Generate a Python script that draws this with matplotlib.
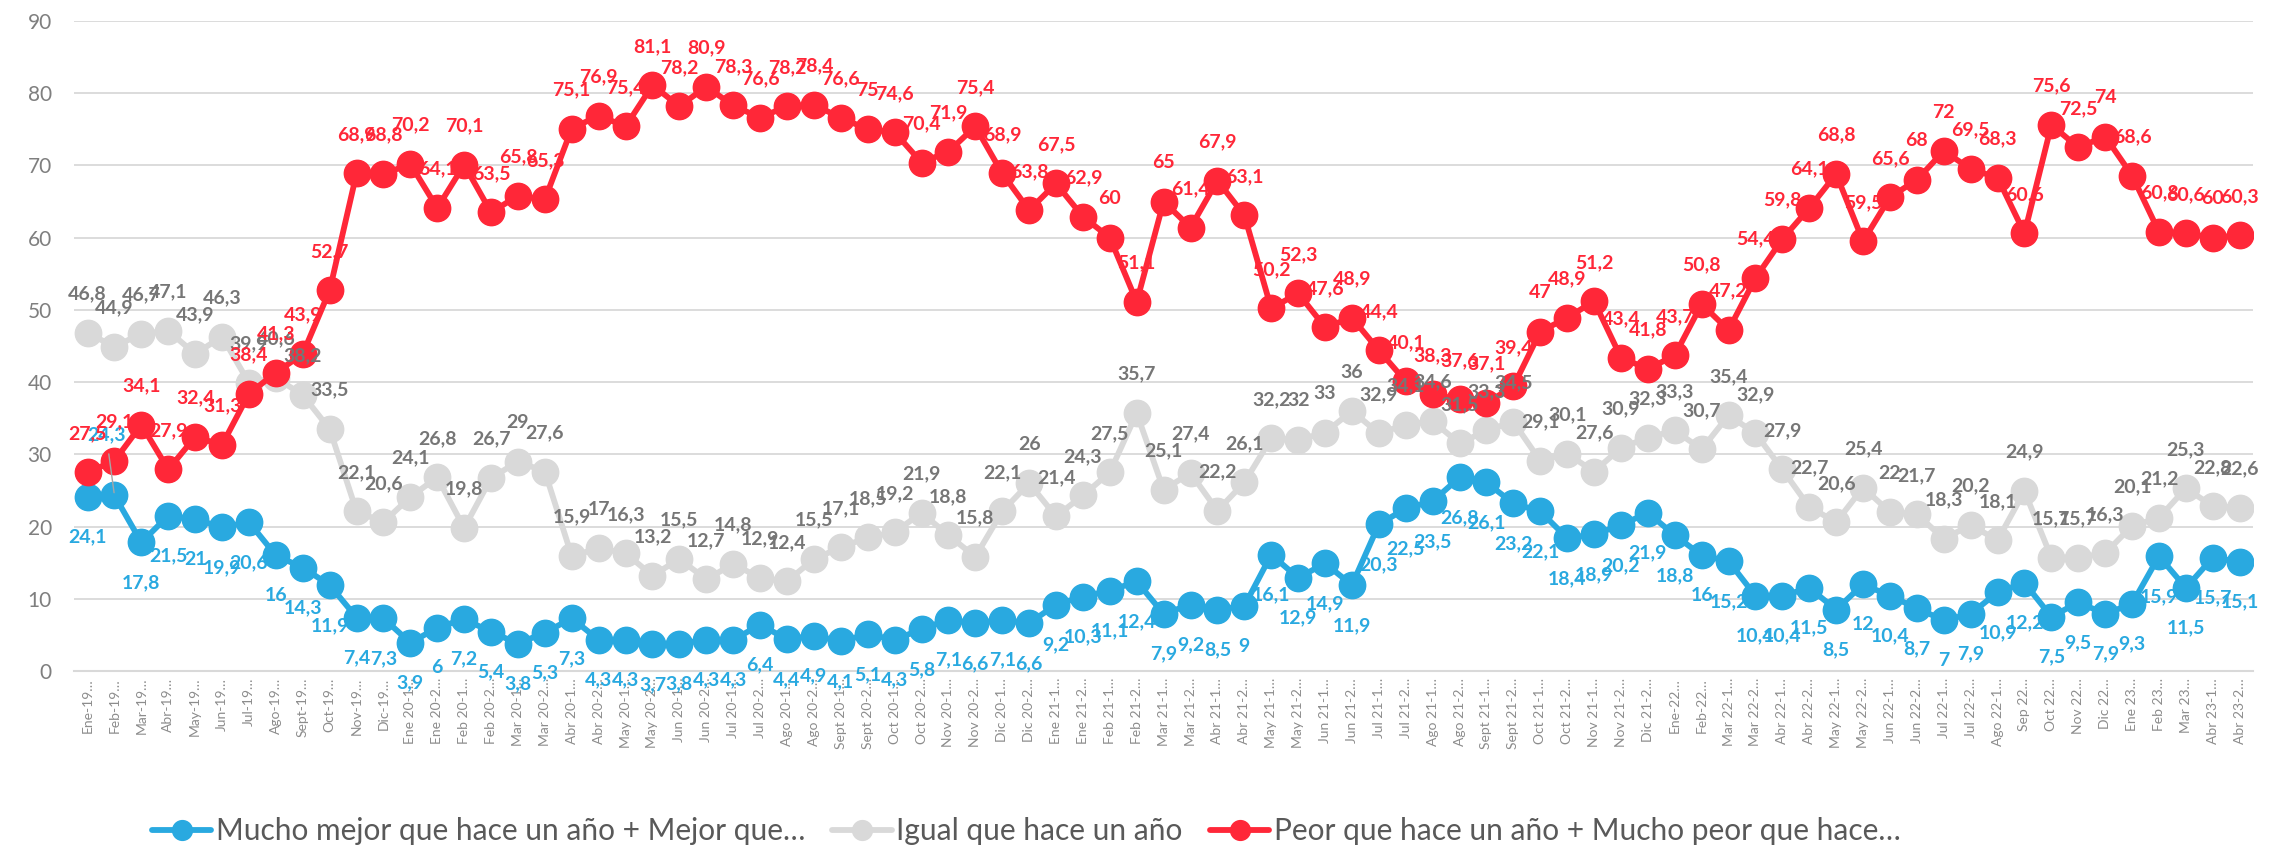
import matplotlib
matplotlib.use("Agg")
import matplotlib.pyplot as plt

plt.rcParams['font.family'] = ['Lato', 'DejaVu Sans']

meses = ["Ene-19", "Feb-19", "Mar-19", "Abr-19", "May-19", "Jun-19", "Jul-19", "Ago-19",
         "Sept-19", "Oct-19", "Nov-19", "Dic-19",
         "Ene 20-1", "Ene 20-2", "Feb 20-1", "Feb 20-2", "Mar 20-1", "Mar 20-2",
         "Abr 20-1", "Abr 20-2", "May 20-1", "May 20-2", "Jun 20-1", "Jun 20-2",
         "Jul 20-1", "Jul 20-2", "Ago 20-1", "Ago 20-2", "Sept 20-1", "Sept 20-2",
         "Oct 20-1", "Oct 20-2", "Nov 20-1", "Nov 20-2", "Dic 20-1", "Dic 20-2",
         "Ene 21-1", "Ene 21-2", "Feb 21-1", "Feb 21-2", "Mar 21-1", "Mar 21-2",
         "Abr 21-1", "Abr 21-2", "May 21-1", "May 21-2", "Jun 21-1", "Jun 21-2",
         "Jul 21-1", "Jul 21-2", "Ago 21-1", "Ago 21-2", "Sept 21-1", "Sept 21-2",
         "Oct 21-1", "Oct 21-2", "Nov 21-1", "Nov 21-2", "Dic 21-2",
         "Ene-22", "Feb-22", "Mar 22-1", "Mar 22-2", "Abr 22-1", "Abr 22-2",
         "May 22-1", "May 22-2", "Jun 22-1", "Jun 22-2", "Jul 22-1", "Jul 22-2",
         "Ago 22-1", "Sep 22", "Oct 22", "Nov 22", "Dic 22", "Ene 23", "Feb 23",
         "Mar 23", "Abr 23-1", "Abr 23-2"]

mejor = [24.1, 24.3, 17.8, 21.5, 21, 19.9, 20.6, 16, 14.3, 11.9, 7.4, 7.3,
         3.9, 6, 7.2, 5.4, 3.8, 5.3, 7.3, 4.3, 4.3, 3.7, 3.8, 4.3,
         4.3, 6.4, 4.4, 4.9, 4.1, 5.1, 4.3, 5.8, 7.1, 6.6, 7.1, 6.6,
         9.2, 10.3, 11.1, 12.4, 7.9, 9.2, 8.5, 9, 16.1, 12.9, 14.9, 11.9,
         20.3, 22.5, 23.5, 26.8, 26.1, 23.2, 22.1, 18.4, 18.9, 20.2, 21.9,
         18.8, 16, 15.2, 10.4, 10.4, 11.5, 8.5, 12, 10.4, 8.7, 7, 7.9,
         10.9, 12.2, 7.5, 9.5, 7.9, 9.3, 15.9, 11.5, 15.7, 15.1]

igual = [46.8, 44.9, 46.7, 47.1, 43.9, 46.3, 39.9, 40.6, 38.2, 33.5, 22.1, 20.6,
         24.1, 26.8, 19.8, 26.7, 29, 27.6, 15.9, 17, 16.3, 13.2, 15.5, 12.7,
         14.8, 12.9, 12.4, 15.5, 17.1, 18.5, 19.2, 21.9, 18.8, 15.8, 22.1, 26,
         21.4, 24.3, 27.5, 35.7, 25.1, 27.4, 22.2, 26.1, 32.2, 32, 33, 36,
         32.9, 34.1, 34.6, 31.5, 33.3, 34.5, 29.1, 30.1, 27.6, 30.9, 32.3,
         33.3, 30.7, 35.4, 32.9, 27.9, 22.7, 20.6, 25.4, 22, 21.7, 18.3, 20.2,
         18.1, 24.9, 15.7, 15.7, 16.3, 20.1, 21.2, 25.3, 22.8, 22.6]

peor = [27.5, 29.1, 34.1, 27.9, 32.4, 31.3, 38.4, 41.3, 43.9, 52.7, 68.9, 68.8,
        70.2, 64.1, 70.1, 63.5, 65.8, 65.3, 75.1, 76.9, 75.4, 81.1, 78.2, 80.9,
        78.3, 76.6, 78.2, 78.4, 76.6, 75, 74.6, 70.4, 71.9, 75.4, 68.9, 63.8,
        67.5, 62.9, 60, 51.1, 65, 61.4, 67.9, 63.1, 50.2, 52.3, 47.6, 48.9,
        44.4, 40.1, 38.3, 37.6, 37.1, 39.4, 47, 48.9, 51.2, 43.4, 41.8,
        43.7, 50.8, 47.2, 54.4, 59.8, 64.1, 68.8, 59.5, 65.6, 68, 72, 69.5,
        68.3, 60.6, 75.6, 72.5, 74, 68.6, 60.8, 60.6, 60, 60.3]

nombres = ["Mucho mejor que hace un año + Mejor que…",
           "Igual que hace un año",
           "Peor que hace un año + Mucho peor que hace…"]

azul = '#29A9E0'
gris = '#D9D9D9'
rojo = '#FF2738'

fig = plt.figure(figsize=(22.87, 8.49), dpi=100)
ax = fig.add_axes([0.0324, 0.2097, 0.9528, 0.7656])

x = list(range(len(meses)))
series = [(mejor, azul, azul, -29), (igual, gris, '#767676', 28), (peor, rojo, rojo, 28)]

lineas = []
for i, (vals, col, col_txt, off) in enumerate(series):
    ln, = ax.plot(x, vals, color=col, lw=4.2, marker='o', ms=19,
                  solid_capstyle='round', zorder=2 + i)
    lineas.append(ln)

for i, (vals, col, col_txt, off) in enumerate(series):
    for xi, v in zip(x, vals):
        txt = f"{v:g}".replace('.', ',')
        if vals is mejor and xi == 1:
            # etiqueta movida a mano en el original, con línea guía
            ax.annotate(txt, (xi, v), xytext=(-6, 44), textcoords='offset points',
                        ha='center', va='center', fontsize=14, fontweight='bold',
                        color=col_txt, zorder=10,
                        arrowprops=dict(arrowstyle='-', color='#A6A6A6', lw=1,
                                        shrinkA=6, shrinkB=2))
            continue
        ax.annotate(txt, (xi, v), xytext=(0, off), textcoords='offset points',
                    ha='center', va='center', fontsize=14, fontweight='bold',
                    color=col_txt, zorder=10)

ax.set_xlim(-0.5, len(meses) - 0.5)
ax.set_ylim(0, 90)
ax.set_yticks(range(0, 91, 10))
ax.yaxis.grid(True, color='#D9D9D9', lw=1.3)
ax.set_axisbelow(True)

ax.set_xticks(x)
ax.set_xticklabels([m + "…" for m in meses], rotation=90, fontsize=10, color='#8C8C8C')
ax.tick_params(axis='x', length=0, pad=5)
ax.tick_params(axis='y', length=0, pad=16, labelsize=15, labelcolor='#7F7F7F')

for s in ['top', 'right', 'left']:
    ax.spines[s].set_visible(False)
ax.spines['bottom'].set_color('#D9D9D9')
ax.spines['bottom'].set_linewidth(1.5)

fig.legend(lineas, nombres, loc='center', bbox_to_anchor=(0.4487, 0.021), ncol=3,
           frameon=False, fontsize=21.5, labelcolor='#595959', handlelength=2.0,
           handletextpad=0.15, columnspacing=0.9, markerscale=0.75)

fig.savefig('out.png', dpi=100)
